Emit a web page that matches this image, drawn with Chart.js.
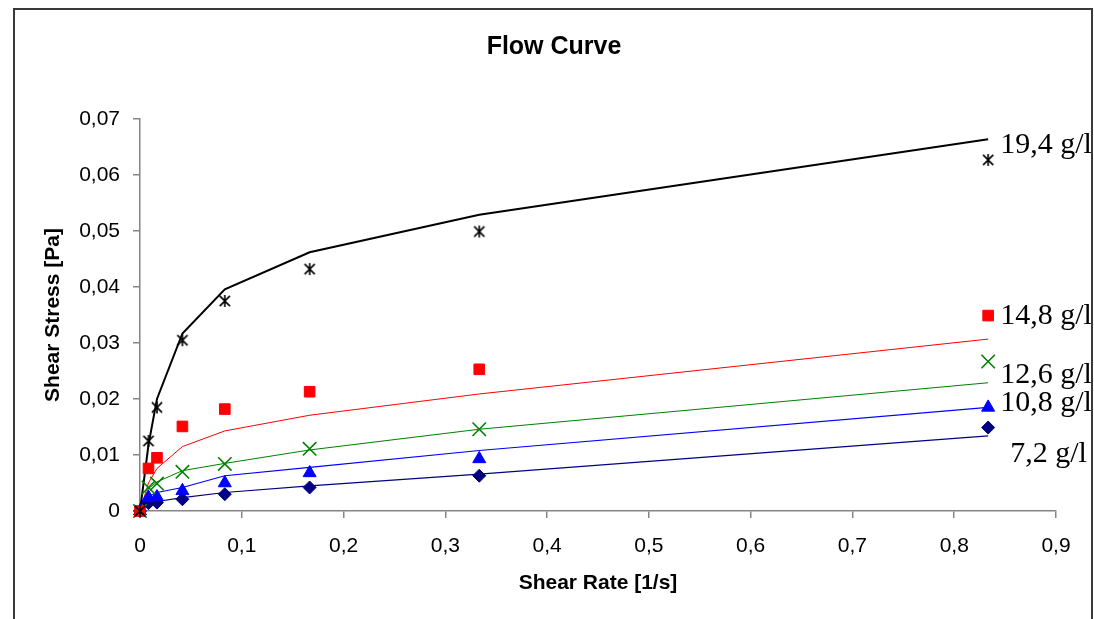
<!DOCTYPE html>
<html>
<head>
<meta charset="utf-8">
<title>Flow Curve</title>
<script src="https://cdn.jsdelivr.net/npm/chart.js@4.4.1/dist/chart.umd.min.js"></script>
<style>
  html, body { margin: 0; padding: 0; background: #fff; }
</style>
</head>
<body>
<canvas id="flowChart" width="1094" height="619"></canvas>
<script>
// Shear rate steps [1/s]
const shearRate = [0, 0.00833, 0.01667, 0.04167, 0.08333, 0.16667, 0.33333, 0.83333];

// Measured shear stress [Pa] per concentration
const meas194 = [0, 0.0125, 0.0185, 0.0305, 0.0375, 0.0432, 0.0499, 0.0627];
const meas148 = [0, 0.0076, 0.0095, 0.0151, 0.0182, 0.0213, 0.0253, 0.0349];
const meas126 = [0, 0.0042, 0.0049, 0.0070, 0.0084, 0.0111, 0.0146, 0.0267];
const meas108 = [0, 0.0024, 0.0025, 0.0036, 0.0050, 0.0068, 0.0093, 0.0185];
const meas72  = [0, 0.0014, 0.0015, 0.0021, 0.0030, 0.0042, 0.0063, 0.0149];

// Model curves [Pa]
const fit194 = [0, 0.0118, 0.0200, 0.0317, 0.0396, 0.0462, 0.0529, 0.0664];
const fit148 = [0, 0.0050, 0.0076, 0.0115, 0.0143, 0.0171, 0.0209, 0.0307];
const fit126 = [0, 0.0040, 0.0052, 0.0072, 0.0085, 0.0109, 0.0146, 0.0229];
const fit108 = [0, 0.0026, 0.0033, 0.0042, 0.0063, 0.0078, 0.0108, 0.0185];
const fit72  = [0, 0.0013, 0.0017, 0.0024, 0.0033, 0.0045, 0.0066, 0.0134];

const seriesNames = ['19,4 g/l', '14,8 g/l', '12,6 g/l', '10,8 g/l', '7,2 g/l'];
const xTickLabels = ['0', '0,1', '0,2', '0,3', '0,4', '0,5', '0,6', '0,7', '0,8', '0,9'];
const yTickLabels = ['0', '0,01', '0,02', '0,03', '0,04', '0,05', '0,06', '0,07'];

const SANS = '"Liberation Sans", Arial, sans-serif';
const SERIF = '"Liberation Serif", "Times New Roman", serif';

function toPoints(ys) {
    return shearRate.map((x, i) => ({ x: x, y: ys[i] }));
}

// Excel-style asterisk: an x with a vertical stroke
function asteriskMarker(size, color, lw) {
    const c = document.createElement('canvas');
    c.width = size;
    c.height = size;
    const g = c.getContext('2d');
    const m = size / 2, r = size / 2 - 1, d = r * 0.85;
    g.strokeStyle = color;
    g.lineWidth = lw;
    g.beginPath();
    g.moveTo(m - d, m - d); g.lineTo(m + d, m + d);
    g.moveTo(m + d, m - d); g.lineTo(m - d, m + d);
    g.moveTo(m, m - r); g.lineTo(m, m + r);
    g.stroke();
    return c;
}

function markerSet(label, ys, color, style, radius, borderWidth) {
    return {
        label: label,
        data: toPoints(ys),
        showLine: false,
        clip: false,
        pointStyle: style,
        pointRadius: radius,
        pointBackgroundColor: color,
        pointBorderColor: color,
        pointBorderWidth: borderWidth
    };
}

function curveSet(label, ys, color, width) {
    return {
        label: label,
        data: toPoints(ys),
        showLine: true,
        borderColor: color,
        borderWidth: width,
        pointRadius: 0,
        tension: 0
    };
}

const colors = ['#000000', '#ff0000', '#008000', '#0000ff', '#000080'];

const datasets = [
    // markers first so they sit on top of the curves
    markerSet(seriesNames[0], meas194, colors[0], asteriskMarker(14, colors[0], 1.6), 6, 1),
    markerSet(seriesNames[1], meas148, colors[1], 'rect', 7.5, 1),
    markerSet(seriesNames[2], meas126, colors[2], 'crossRot', 9.5, 1.6),
    markerSet(seriesNames[3], meas108, colors[3], 'triangle', 7.5, 1),
    markerSet(seriesNames[4], meas72, colors[4], 'rectRot', 6.5, 1),
    curveSet(seriesNames[0] + ' model', fit194, colors[0], 2),
    curveSet(seriesNames[1] + ' model', fit148, colors[1], 1),
    curveSet(seriesNames[2] + ' model', fit126, colors[2], 1),
    curveSet(seriesNames[3] + ' model', fit108, colors[3], 1.2),
    curveSet(seriesNames[4] + ' model', fit72, colors[4], 1.2)
];

// Frame, title and end-of-curve labels
const decorations = {
    id: 'decorations',
    beforeDraw(chart) {
        const ctx = chart.ctx;
        ctx.save();
        ctx.fillStyle = '#ffffff';
        ctx.fillRect(0, 0, chart.width, chart.height);
        ctx.restore();
    },
    afterDraw(chart, args, opts) {
        const ctx = chart.ctx;
        const xs = chart.scales.x, ys = chart.scales.y;

        ctx.save();
        ctx.strokeStyle = '#3a3a3a';
        ctx.lineWidth = 2;
        ctx.strokeRect(14, 9, 1078, 700);

        ctx.fillStyle = '#000';
        ctx.font = 'bold 25px ' + SANS;
        ctx.textAlign = 'center';
        ctx.textBaseline = 'alphabetic';
        ctx.fillText('Flow Curve', 554, 54);

        ctx.beginPath();
        ctx.rect(0, 0, 1091, chart.height);
        ctx.clip();
        ctx.font = '30px ' + SERIF;
        ctx.textAlign = 'left';
        const fits = [fit194, fit148, fit126, fit108, fit72];
        const last = shearRate.length - 1;
        seriesNames.forEach((name, i) => {
            const px = xs.getPixelForValue(shearRate[last]);
            const py = ys.getPixelForValue(fits[i][last]);
            const off = opts.offsets[i];
            ctx.fillText(name, px + off[0], py + off[1]);
        });
        ctx.restore();
    }
};

const axisColor = '#858585';

new Chart(document.getElementById('flowChart'), {
    type: 'scatter',
    data: { datasets: datasets },
    plugins: [decorations],
    options: {
        responsive: false,
        animation: false,
        layout: { padding: { top: 119, right: 38, left: 0, bottom: 0 } },
        plugins: {
            legend: { display: false },
            tooltip: { enabled: false },
            title: { display: false },
            decorations: {
                offsets: [[12, 14], [12, -15], [12, 0.5], [12, 3.3], [22, 26]]
            }
        },
        scales: {
            x: {
                type: 'linear',
                min: 0,
                max: 0.9,
                afterFit: (scale) => { scale.height = 108; },
                border: { display: true, color: axisColor, width: 1.5 },
                grid: { display: true, drawOnChartArea: false, drawTicks: true, tickLength: 7, color: axisColor, lineWidth: 1.5 },
                ticks: {
                    stepSize: 0.1,
                    autoSkip: false,
                    maxRotation: 0,
                    padding: 16,
                    color: '#000',
                    font: { family: SANS, size: 21 },
                    callback: (value, index) => xTickLabels[index]
                },
                title: {
                    display: true,
                    text: 'Shear Rate [1/s]',
                    color: '#000',
                    font: { family: SANS, size: 21, weight: 'bold' },
                    padding: { top: 0, bottom: 23 }
                }
            },
            y: {
                type: 'linear',
                min: 0,
                max: 0.07,
                afterFit: (scale) => { scale.width = 140; },
                border: { display: true, color: axisColor, width: 1.5 },
                grid: { display: true, drawOnChartArea: false, drawTicks: true, tickLength: 7, color: axisColor, lineWidth: 1.5 },
                ticks: {
                    stepSize: 0.01,
                    autoSkip: false,
                    padding: 13,
                    color: '#000',
                    font: { family: SANS, size: 21 },
                    callback: (value, index) => yTickLabels[index]
                },
                title: {
                    display: true,
                    text: 'Shear Stress [Pa]',
                    color: '#000',
                    font: { family: SANS, size: 21, weight: 'bold' },
                    padding: { top: 41, bottom: 0 }
                }
            }
        }
    }
});
</script>
</body>
</html>
